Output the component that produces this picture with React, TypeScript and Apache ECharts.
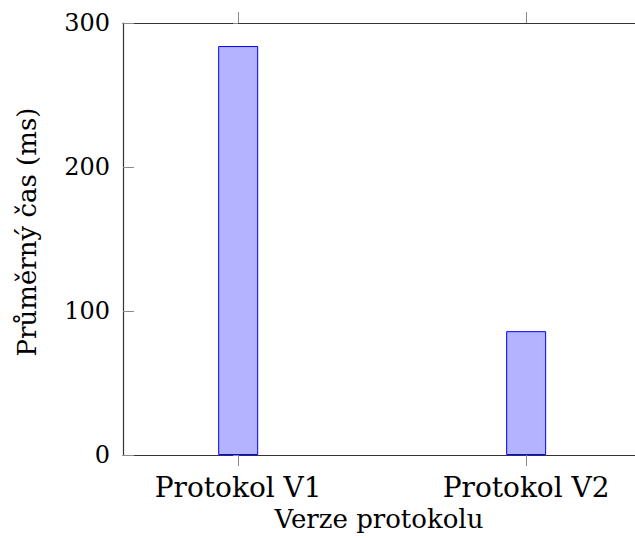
import React, { useEffect, useRef } from "react";
import * as echarts from "echarts";

const categories = ["Protokol V1", "Protokol V2"];
const values = [284, 86];
const yTicks = [0, 100, 200, 300];
const xTitle = "Verze protokolu";
const yTitle = "Průměrný čas (ms)";

const FONT = "DejaVu Serif";

export default function App() {
  const ref = useRef<HTMLDivElement>(null);
  useEffect(() => {
    if (!ref.current) return;
    const chart = echarts.init(ref.current, null, { renderer: "svg" });
    const positions = categories.map((_, i) => i);
    const tickStyle = { color: "#8a8a8a", width: 1 };
    const lineStyle = { color: "#333", width: 1.2 };
    const xMin = -0.4;
    const xMax = 1.378;
    chart.setOption({
      animation: false,
      textStyle: { fontFamily: FONT },
      grid: { left: 123, top: 23, right: 0, height: 432, containLabel: false },
      xAxis: [
        {
          type: "value",
          position: "bottom",
          min: xMin,
          max: xMax,
          splitLine: { show: false },
          axisLine: { show: true, onZero: false, lineStyle },
          axisTick: { show: true, inside: false, length: 11, customValues: positions, lineStyle: tickStyle },
          axisLabel: {
            show: true,
            customValues: positions,
            formatter: (v: number) => categories[Math.round(v)] ?? "",
            fontFamily: FONT,
            fontSize: 28,
            color: "#000",
            margin: 18,
          },
          name: xTitle,
          nameLocation: "middle",
          nameGap: 44,
          nameTextStyle: { fontFamily: FONT, fontSize: 26, color: "#000" },
        },
        {
          type: "value",
          position: "top",
          min: xMin,
          max: xMax,
          splitLine: { show: false },
          axisLine: { show: true, onZero: false, lineStyle },
          axisTick: { show: true, inside: false, length: 11, customValues: positions, lineStyle: tickStyle },
          axisLabel: { show: false },
        },
      ],
      yAxis: [
        {
          type: "value",
          position: "left",
          min: yTicks[0],
          max: yTicks[yTicks.length - 1],
          interval: 100,
          splitLine: { show: false },
          axisLine: { show: true, onZero: false, lineStyle },
          axisTick: { show: true, inside: true, length: 11, lineStyle: tickStyle },
          axisLabel: { fontFamily: FONT, fontSize: 24, color: "#000", margin: 13 },
          name: yTitle,
          nameLocation: "middle",
          nameGap: 83,
          nameRotate: 90,
          nameTextStyle: { fontFamily: FONT, fontSize: 26, color: "#000", padding: [0, 0, 0, 14] },
        },
        {
          type: "value",
          position: "right",
          min: yTicks[0],
          max: yTicks[yTicks.length - 1],
          interval: 100,
          splitLine: { show: false },
          axisLine: { show: false },
          axisTick: { show: true, inside: true, length: 5, lineStyle: tickStyle },
          axisLabel: { show: false },
        },
      ],
      series: [
        {
          type: "bar",
          xAxisIndex: 0,
          yAxisIndex: 0,
          barWidth: 40,
          data: categories.map((_, i) => [i, values[i]]),
          itemStyle: { color: "#b3b3ff", borderColor: "#0000ff", borderWidth: 1 },
        },
      ],
    });
    return () => chart.dispose();
  }, []);
  return (
    <div
      ref={ref}
      style={{ position: "fixed", left: 0, top: 0, width: 635, height: 538, background: "#fff" }}
    />
  );
}
